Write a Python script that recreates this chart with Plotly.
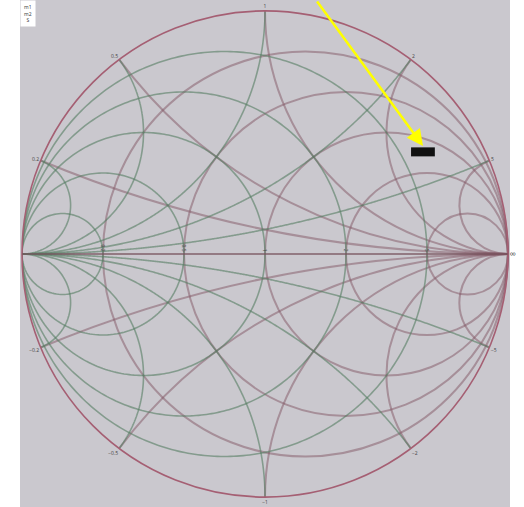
import numpy as np
import plotly.graph_objects as go

# Grid values of the Smith chart (impedance and admittance)
real_ticks = [0.2, 0.5, 1, 2, 5]
imag_ticks = [-5, -2, -1, -0.5, -0.2, 0.2, 0.5, 1, 2, 5]
adm_g = [0.2, 0.5, 1, 2, 5]
adm_b = [-5, -2, -1, -0.5, -0.2, 0.2, 0.5, 1, 2, 5]

# Marker point (normalized impedance)
marker_re = [1.34]
marker_im = [2.81]
marker_lbl = ["m1"]

BG = "rgb(202,200,206)"
ZCOL = "rgba(130,85,100,0.5)"
YCOL = "rgba(85,125,98,0.6)"

fig = go.Figure()

# admittance grid drawn through the smith scale: z = 1/(g + jb)
t = np.tan(np.linspace(-np.pi / 2 + 1e-3, np.pi / 2 - 1e-3, 400))
for g in adm_g:
    z = 1 / (g + 1j * t)
    fig.add_trace(go.Scattersmith(real=np.append(z.real, 0), imag=np.append(z.imag, 0),
                                  mode="lines", line=dict(color=YCOL, width=1.6),
                                  hoverinfo="skip", showlegend=False))
gs = np.tan(np.linspace(0, np.pi / 2 - 1e-3, 400))
for b in adm_b:
    z = 1 / (gs + 1j * b)
    fig.add_trace(go.Scattersmith(real=np.append(z.real, 0), imag=np.append(z.imag, 0),
                                  mode="lines", line=dict(color=YCOL, width=1.6),
                                  hoverinfo="skip", showlegend=False))

fig.add_trace(go.Scattersmith(real=marker_re, imag=marker_im, mode="markers",
                              marker=dict(symbol="line-ew", size=17,
                                          line=dict(width=9, color="#111")),
                              text=marker_lbl, showlegend=False))

W, H = 524, 507
fig.update_layout(
    width=W, height=H,
    margin=dict(l=0, r=0, t=0, b=0),
    paper_bgcolor="white",
    showlegend=False,
    smith=dict(
        domain=dict(x=[22 / W, 508 / W], y=[10 / H, 496 / H]),
        bgcolor=BG,
        realaxis=dict(tickvals=real_ticks, gridcolor=ZCOL, gridwidth=1.5,
                      linecolor="rgba(120,85,95,0.9)", linewidth=1.5,
                      ticks="", tickfont=dict(size=5, color="#444")),
        imaginaryaxis=dict(tickvals=imag_ticks, gridcolor=ZCOL, gridwidth=1.5,
                           linecolor="rgb(165,95,115)", linewidth=1.6,
                           ticks="", tickfont=dict(size=5, color="#444")),
    ),
    shapes=[dict(type="rect", xref="paper", yref="paper", x0=20 / W, x1=510 / W,
                 y0=0, y1=1, fillcolor=BG, line=dict(width=0), layer="below")],
    annotations=[
        dict(xref="paper", yref="paper", x=423 / W, y=1 - 146 / H, text="",
             showarrow=True, arrowhead=2, arrowsize=1.3, arrowwidth=2.5,
             arrowcolor="#ffff00", ax=316 - 423, ay=-2 - 146),
        dict(xref="paper", yref="paper", x=20 / W, y=1, xanchor="left",
             yanchor="top", text="m1<br>m2<br>S", showarrow=False, bgcolor="white",
             font=dict(size=5, color="#333"), borderpad=3),
    ],
)

fig.write_html("out.html", config={"displayModeBar": False},
               post_script="document.body.style.margin='0px';")
